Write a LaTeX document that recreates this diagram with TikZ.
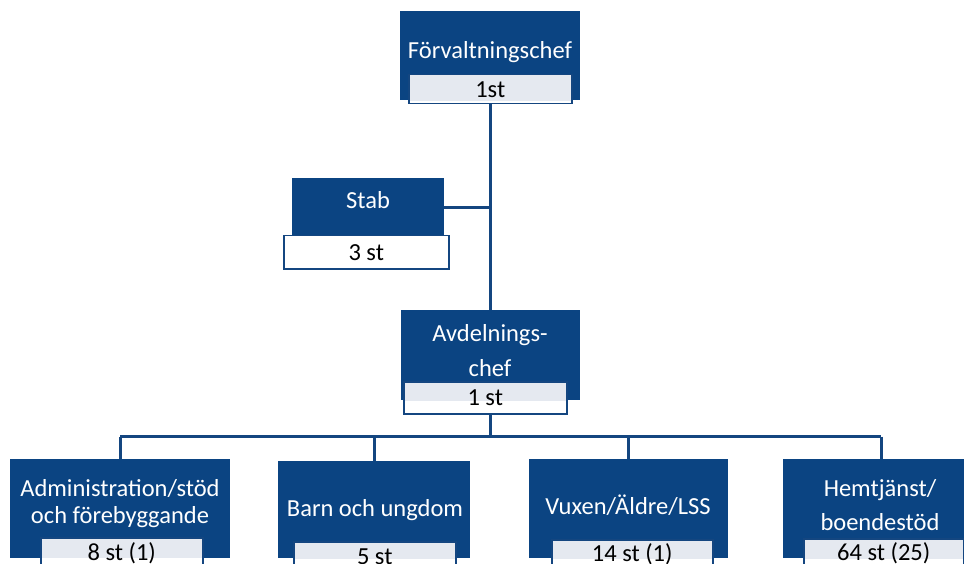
\documentclass[tikz,border=0pt]{standalone}
\usepackage{fontspec}
\setmainfont{Carlito}
\usetikzlibrary{positioning, calc}

\definecolor{boxblue}{RGB}{11,68,130}
\definecolor{lineblue}{RGB}{20,70,128}
\definecolor{paleblue}{RGB}{229,233,240}

\begin{document}
\begin{tikzpicture}[x=1pt, y=-1pt, font=\fontsize{24.5}{29}\selectfont,
  unit/.style={fill=boxblue, inner sep=0pt, anchor=north west},
  count/.style={draw=lineblue, line width=1.5pt, fill=white, inner sep=0pt, anchor=north west},
  pale/.style={path picture={\fill[paleblue] (path picture bounding box.north west) rectangle ([yshift=-#1pt]path picture bounding box.north east);}},
  title/.style={text=white, align=center},
  link/.style={draw=lineblue, line width=2.8pt}]

  \clip (0,0) rectangle (964,564);

  % Förvaltningschef
  \node[unit, minimum width=180pt, minimum height=89pt] (chief) at (400,11) {};
  \node[title] (chieftxt) at (490,52) {Förvaltningschef};
  \node[count, pale=26, minimum width=163pt, minimum height=29pt] (chiefn) at (408,74) {1st};

  % Stab
  \node[unit, minimum width=152pt, minimum height=58pt] (stab) at (292,178) {};
  \node[title] (stabtxt) at (368,200) {Stab};
  \node[count, minimum width=165pt, minimum height=33pt] (stabn) at (283,235) {3 st};

  % Avdelningschef
  \node[unit, minimum width=179pt, minimum height=90pt] (head) at (401,310) {};
  \node[title, text depth=0pt] (headtxt) at (490,350) {Avdelnings-\\[6pt]chef};
  \node[count, pale=19, minimum width=163pt, minimum height=32pt] (headn) at (403,381) {1 st};

  % Enheter
  \node[unit, minimum width=220pt, minimum height=99pt] (adm) at (10,459) {};
  \node[title] (admtxt) at (120,504) {Administration/stöd\\[-2pt]och förebyggande};
  \node[count, pale=20, minimum width=162pt, minimum height=30pt] (admn) at (40,537) {8 st (1)};

  \node[unit, minimum width=192pt, minimum height=97pt] (barn) at (278,461) {};
  \node[title] (barntxt) at (375,510) {Barn och ungdom};
  \node[count, pale=17, minimum width=162pt, minimum height=29pt] (barnn) at (293,541) {5 st};

  \node[unit, minimum width=199pt, minimum height=99pt] (vux) at (529,459) {};
  \node[title] (vuxtxt) at (628,505) {Vuxen/Äldre/LSS};
  \node[count, pale=19, minimum width=161pt, minimum height=29pt] (vuxn) at (551,539) {14 st (1)};

  \node[unit, minimum width=196pt, minimum height=99pt] (hem) at (783,459) {};
  \node[title, text depth=0pt] (hemtxt) at (880,505) {Hemtjänst/\\[5pt]boendestöd};
  \node[count, pale=20, minimum width=160pt, minimum height=29pt] (hemn) at (803,538) {64 st (25)};

  % Linjer
  \coordinate (bus) at ([yshift=-22pt]headn.south -| chiefn.south);
  \draw[link] (chiefn.south) -- (chiefn.south |- head.north);
  \draw[link] (stab.east) -- (stab.east -| chiefn.south);
  \draw[link] (headn.south -| bus) -- (bus);
  \draw[link] (bus -| adm.north) -- (bus -| hem.north);
  \foreach \u in {adm, barn, vux, hem}
    \draw[link] (bus -| \u.north) -- (\u.north);
\end{tikzpicture}
\end{document}
